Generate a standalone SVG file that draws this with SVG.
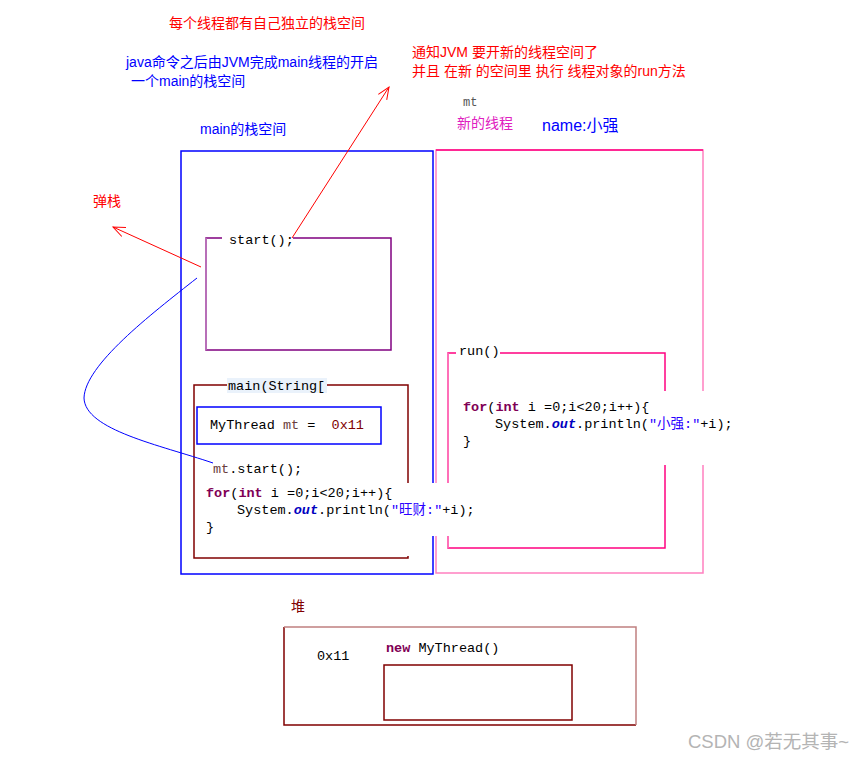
<svg xmlns="http://www.w3.org/2000/svg" width="865" height="761" viewBox="0 0 865 761">
<style>
.cn{font-family:"Liberation Sans","Noto Sans CJK SC",sans-serif;font-size:14px}
.code{font-family:"Liberation Mono","Noto Sans CJK SC",monospace;font-size:13.5px;fill:#000;white-space:pre}
.kw{fill:#7f0055;font-weight:bold}
.out{fill:#0000c0;font-weight:bold;font-style:italic}
.str{fill:#2a00ff}
.var{fill:#6a3e3e}
</style>
<defs>
<marker id="ah" markerUnits="userSpaceOnUse" markerWidth="14" markerHeight="12" refX="12" refY="6" orient="auto">
<path d="M0,1 L12,6 L0,11" fill="none" stroke="#ff0000" stroke-width="1"/>
</marker>
</defs>
<rect width="865" height="761" fill="#fff"/>

<g id="titles">
<text class="cn" x="169" y="28" fill="#ff0000">每个线程都有自己独立的栈空间</text>
<text class="cn" x="126" y="67" fill="#0000ff">java命令之后由JVM完成main线程的开启</text>
<text class="cn" x="131" y="86" fill="#0000ff"> 一个main的栈空间</text>
<text class="cn" x="412" y="57" fill="#ff0000">通知JVM 要开新的线程空间了</text>
<text class="cn" x="412" y="76" fill="#ff0000">并且 在新 的空间里 执行 线程对象的run方法</text>
<text class="cn" x="93" y="206" fill="#ff0000">弹栈</text>
</g>

<g id="main-stack">
<rect x="181" y="151" width="252" height="423" fill="none" stroke="#0000ff" stroke-width="1.5"/>
<text class="cn" x="200" y="134" fill="#0000ff">main的栈空间</text>
</g>

<g id="new-thread">
<path d="M436,573 L436,150 L703,150 L703,573 Z" fill="none" stroke="#ff80c0" stroke-width="1.5"/>
<line x1="436" y1="150" x2="703" y2="150" stroke="#ff0080" stroke-width="1.5"/>
<text x="463" y="106" font-family="Liberation Mono,monospace" font-size="12" fill="#555">mt</text>
<text class="cn" x="457" y="128" fill="#e020c0">新的线程</text>
<text class="cn" x="542" y="131" fill="#0000ff" style="font-size:16px">name:小强</text>
</g>

<g id="start-frame">
<rect x="206" y="238" width="185" height="112" fill="none" stroke="#800080" stroke-width="1.5"/>
<line x1="206" y1="238" x2="206" y2="350" stroke="#c080c0" stroke-width="1.5"/>
<rect x="222" y="230" width="71" height="17" fill="#fff"/>
<text class="code" x="229" y="244">start();</text>
</g>

<g id="main-frame">
<rect x="194" y="385" width="214" height="173" fill="none" stroke="#800000" stroke-width="1.5"/>
<rect x="227" y="378" width="100" height="15" fill="#eaf2fb"/>
<text class="code" x="228" y="390">main(String[</text>
<rect x="197" y="407" width="184" height="37" fill="none" stroke="#0000ff" stroke-width="1.5"/>
<text class="code" x="210" y="429">MyThread <tspan class="var">mt</tspan> =  <tspan fill="#800000">0x11</tspan></text>
<text class="code" x="213" y="473"><tspan class="var">mt</tspan>.start();</text>
</g>

<g id="run-frame">
<rect x="448" y="353" width="217" height="195" fill="none" stroke="#ff0080" stroke-width="1.5"/>
<line x1="448" y1="353" x2="448" y2="548" stroke="#ff80c0" stroke-width="1.5"/>
<rect x="456" y="345" width="44" height="14" fill="#fff"/>
<text class="code" x="459" y="355">run()</text>
<rect x="455" y="391" width="277" height="74" fill="#fff"/>
<text class="code" x="463" y="411"><tspan class="kw">for</tspan>(<tspan class="kw">int</tspan> i =0;i&lt;20;i++){</text>
<text class="code" x="495" y="428">System.<tspan class="out">out</tspan>.println(<tspan class="str">"小强:"</tspan>+i);</text>
<text class="code" x="463" y="445">}</text>
</g>

<g id="main-code">
<rect x="196" y="483" width="281" height="53" fill="#fff"/>
<rect x="196" y="536" width="214" height="20" fill="#fff"/>
<text class="code" x="206" y="497"><tspan class="kw">for</tspan>(<tspan class="kw">int</tspan> i =0;i&lt;20;i++){</text>
<text class="code" x="237" y="514">System.<tspan class="out">out</tspan>.println(<tspan class="str">"旺财:"</tspan>+i);</text>
<text class="code" x="206" y="531">}</text>
</g>

<g id="heap">
<text class="cn" x="291" y="611" fill="#800000">堆</text>
<path d="M284,627 L284,725 L636,725" fill="none" stroke="#800000" stroke-width="1.5"/>
<path d="M284,627 L636,627 L636,725" fill="none" stroke="#c08080" stroke-width="1.5"/>
<text class="code" x="317" y="660" fill="#800000">0x11</text>
<text class="code" x="386" y="652"><tspan class="kw">new</tspan> MyThread()</text>
<rect x="384" y="665" width="188" height="55" fill="none" stroke="#800000" stroke-width="1.5"/>
</g>

<g id="connectors">
<line x1="292" y1="238" x2="389" y2="87" stroke="#ff0000" stroke-width="1" marker-end="url(#ah)"/>
<line x1="201" y1="267" x2="113" y2="227" stroke="#ff0000" stroke-width="1" marker-end="url(#ah)"/>
<path d="M197,278 C150,315 85,365 84,398 C85,430 160,445 213,463" fill="none" stroke="#0000ff" stroke-width="1"/>
</g>

<text x="688" y="748" font-family="Liberation Sans,Noto Sans CJK SC,sans-serif" font-size="18.5" fill="#b4b4b4">CSDN @若无其事~</text>
</svg>
